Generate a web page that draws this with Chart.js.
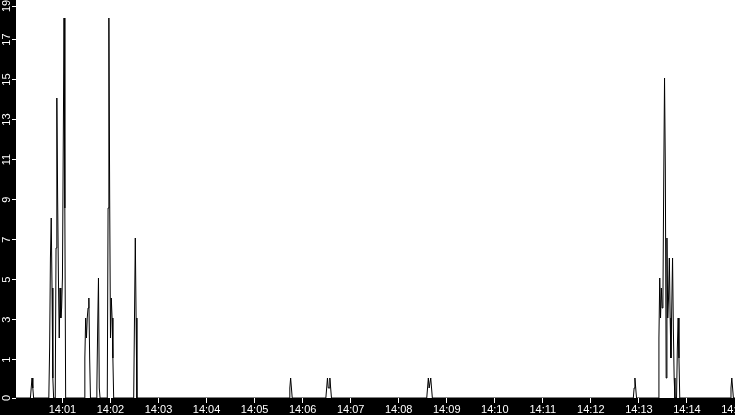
<!DOCTYPE html>
<html lang="en">
<head>
<meta charset="UTF-8">
<title>activity 14:00 - 14:15</title>
<style>
  html, body { margin: 0; padding: 0; background: #000; }
  #wrap { width: 735px; height: 415px; }
</style>
</head>
<body>
<div id="wrap"><canvas id="myChart"></canvas></div>

<script src="https://cdn.jsdelivr.net/npm/chart.js"></script>
<script>
// seconds after 14:00:00, one point per second around each burst
const v_times = [
    2,
    20, 21, 22, 23, 24,
    43, 44, 45, 46, 47, 48, 49,
    51, 52, 53, 54, 55, 56, 57, 58, 59, 60, 61, 62, 63, 64,
    87, 88, 89, 90, 91, 92, 93, 94, 95,
    102, 103, 104, 105, 106, 107,
    116, 117, 118, 119, 120, 121, 122, 123, 124,
    149, 150, 151, 152, 153,
    343, 344, 345, 346, 347,
    389, 390, 391, 392, 393, 394, 395, 396,
    515, 516, 517, 518, 519, 520, 521, 522,
    773, 774, 775, 776, 777,
    804, 805, 806, 807, 808, 809, 810, 811, 812, 813, 814, 815, 816, 817,
    818, 819, 820, 821, 822, 823, 824, 825, 826, 827, 828, 829, 830, 831,
    894, 895, 896, 897, 898,
    900
];
const v_values = [
    0,
    0, 0.5, 1, 0.5, 0,
    0, 2.5, 7, 9, 5.5, 1, 0,
    0, 7.5, 15, 10, 6, 3, 5.5, 4, 4.5, 6, 12.5, 19, 9.5, 0,
    0, 2, 4, 3, 4, 4.5, 5, 2, 0,
    0, 0.5, 3.5, 6, 0.5, 0,
    0, 9.5, 19, 10, 3, 5, 4, 2, 0,
    0, 4, 8, 4, 0,
    0, 0.5, 1, 0.5, 0,
    0, 0.5, 1, 0.5, 0.5, 1, 0.5, 0,
    0, 0.5, 1, 0.5, 0.5, 1, 0.5, 0,
    0, 0.5, 1, 0.5, 0,
    0, 3, 6, 4, 5.5, 4.5, 5, 11, 16, 11.5, 1, 8, 4, 5,
    7, 4, 2, 4.5, 7, 3.5, 1, 0, 0, 0, 2.5, 4, 2, 0,
    0, 0.5, 1, 0.5, 0,
    0
];
const v_xTickLabels = ['14:01', '14:02', '14:03', '14:04', '14:05', '14:06', '14:07', '14:08',
    '14:09', '14:10', '14:11', '14:12', '14:13', '14:14', '14:15'];
const v_yTickLabels = [0, 1, 3, 5, 7, 9, 11, 13, 15, 17, 19];

const v_xMin = 2, v_xMax = 900;
const v_yMax = 19.9;

let v_points = [];
for (let i = 0; i < v_times.length; i++) {
    v_points.push({ x: v_times[i], y: v_values[i] });
}

// black page, white plotting area
const v_bgPlugin = {
    id: 'bg',
    beforeDraw(chart) {
        const ctx = chart.ctx;
        const a = chart.chartArea;
        ctx.save();
        ctx.fillStyle = '#000';
        ctx.fillRect(0, 0, chart.width, chart.height);
        ctx.fillStyle = '#fff';
        ctx.fillRect(a.left, a.top, a.right - a.left, a.bottom - a.top);
        ctx.restore();
    }
};

const v_font = { family: '"Liberation Sans", Arial, sans-serif', size: 11 };

const ctx = document.querySelector('#myChart');
new Chart(ctx, {
    type: 'line',
    data: {
        datasets: [{
            label: 'count',
            data: v_points,
            borderColor: '#000',
            borderWidth: 1,
            pointRadius: 0,
            tension: 0,
            fill: false
        }]
    },
    options: {
        animation: false,
        responsive: true,
        maintainAspectRatio: false,
        devicePixelRatio: 1,
        layout: { padding: 0 },
        plugins: {
            legend: { display: false },
            tooltip: { enabled: false }
        },
        scales: {
            x: {
                type: 'linear',
                min: v_xMin,
                max: v_xMax,
                border: { display: false },
                grid: { drawOnChartArea: false, drawTicks: true, tickLength: 5, tickColor: '#fff' },
                ticks: {
                    color: '#fff',
                    font: v_font,
                    padding: 0,
                    autoSkip: false,
                    maxRotation: 0,
                    callback: (val, i) => v_xTickLabels[i]
                },
                afterBuildTicks: (scale) => {
                    scale.ticks = v_xTickLabels.map(s => ({ value: Number(s.split(':')[1]) * 60 }));
                },
                afterFit: (scale) => {
                    scale.height = 17;
                    scale.paddingLeft = 0;
                    scale.paddingRight = 0;
                }
            },
            y: {
                min: 0,
                max: v_yMax,
                border: { display: false },
                grid: { drawOnChartArea: false, drawTicks: true, tickLength: 4, tickColor: '#fff' },
                ticks: {
                    color: '#fff',
                    font: v_font,
                    padding: -1,
                    autoSkip: false,
                    minRotation: 90,
                    maxRotation: 90,
                    crossAlign: 'center',
                    callback: (val, i) => v_yTickLabels[i]
                },
                // labels sit a little above their value, top one kept inside
                afterBuildTicks: (scale) => {
                    scale.ticks = v_yTickLabels.map(l => ({ value: l === 0 ? 0 : Math.min(l + 0.92, v_yMax - 0.3) }));
                },
                afterFit: (scale) => {
                    scale.width = 16;
                    scale.paddingTop = 0;
                    scale.paddingBottom = 0;
                }
            }
        }
    },
    plugins: [v_bgPlugin]
});
</script>
</body>
</html>
